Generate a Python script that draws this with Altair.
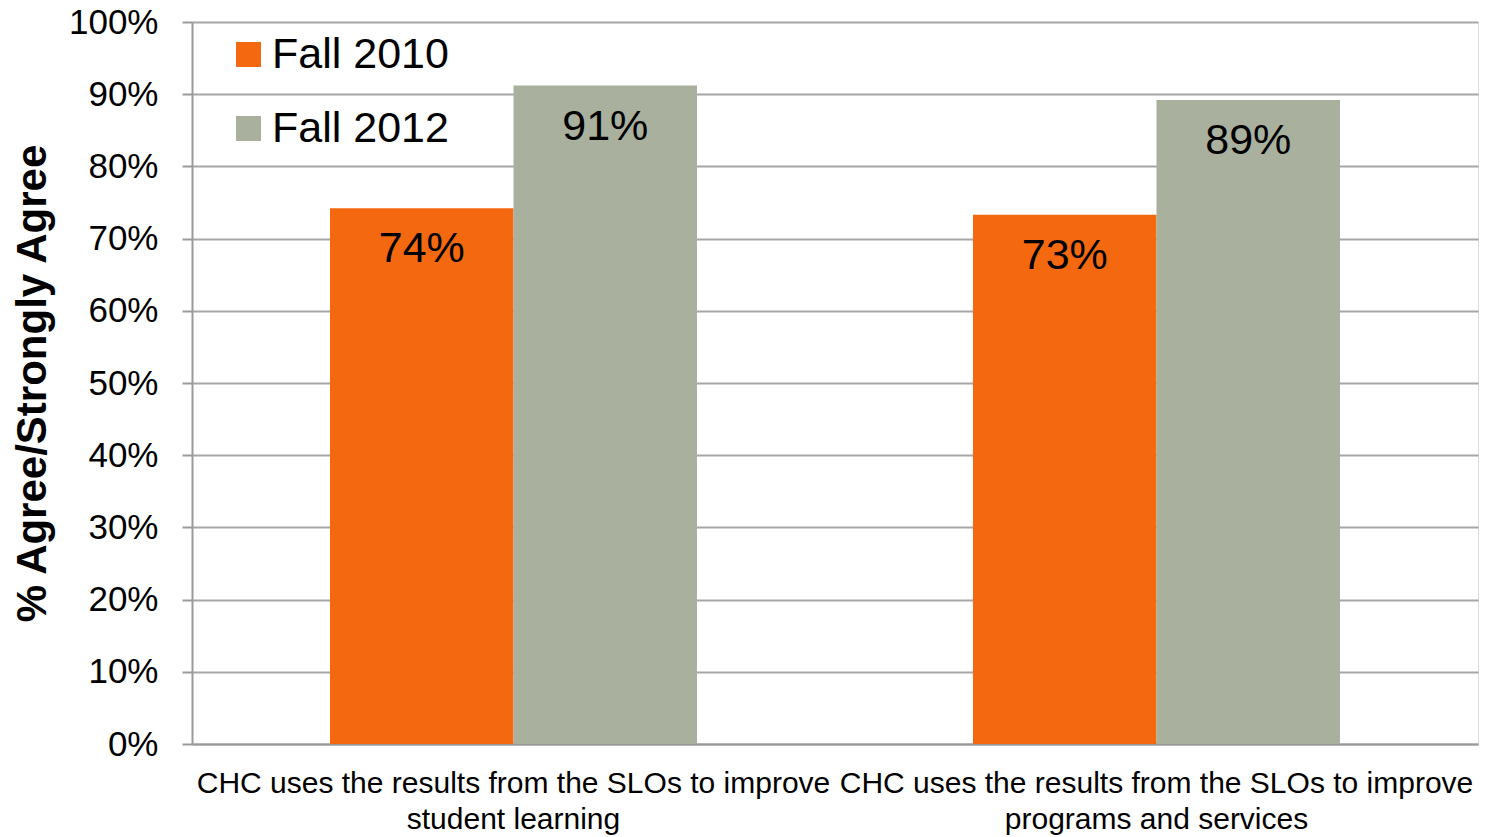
import altair as alt
import pandas as pd

categories = [
    "CHC uses the results from the SLOs to improve student learning",
    "CHC uses the results from the SLOs to improve programs and services",
]
series = ["Fall 2010", "Fall 2012"]
fall_2010 = [0.742, 0.733]
fall_2012 = [0.912, 0.892]
colors = ["#F4690F", "#A9B09E"]

rows = []
for i, c in enumerate(categories):
    rows.append({"cat": c, "series": series[0], "value": fall_2010[i]})
    rows.append({"cat": c, "series": series[1], "value": fall_2012[i]})
df = pd.DataFrame(rows)

FONT = "Liberation Sans, Arial, sans-serif"

x = alt.X(
    "cat:N",
    sort=categories,
    title=None,
    scale=alt.Scale(paddingInner=0, paddingOuter=0),
    axis=alt.Axis(
        labelAngle=0,
        labelFontSize=30,
        labelFont=FONT,
        labelColor="#000000",
        labelLineHeight=36,
        labelPadding=24,
        labelLimit=0,
        ticks=False,
        domainColor="#9a9a9a",
        domainWidth=2,
        labelExpr="[substring(datum.label, 0, indexof(datum.label, 'improve') + 7), substring(datum.label, indexof(datum.label, 'improve') + 8)]",
    ),
)
xo = alt.XOffset("series:N", sort=series, scale=alt.Scale(paddingInner=0, paddingOuter=0.752))
y = alt.Y(
    "value:Q",
    title="% Agree/Strongly Agree",
    scale=alt.Scale(domain=[0, 1]),
    axis=alt.Axis(
        format=".0%",
        values=[i / 10 for i in range(11)],
        labelFontSize=35,
        labelFont=FONT,
        labelColor="#000000",
        labelPadding=24,
        tickSize=10,
        tickColor="#9a9a9a",
        tickWidth=2,
        domainColor="#9a9a9a",
        domainWidth=2,
        gridColor="#a6a6a6",
        gridWidth=2,
        titleFontSize=42,
        titleFont=FONT,
        titleFontWeight="bold",
        titleColor="#000000",
        titlePadding=14,
    ),
)

bars = alt.Chart(df).mark_bar().encode(
    x=x,
    xOffset=xo,
    y=y,
    color=alt.Color(
        "series:N",
        sort=series,
        scale=alt.Scale(domain=series, range=colors),
        legend=alt.Legend(
            title=None,
            orient="none",
            legendX=35,
            legendY=11,
            symbolType="square",
            symbolSize=625,
            symbolStrokeWidth=0,
            labelFontSize=43,
            labelFont=FONT,
            labelColor="#000000",
            labelLimit=0,
            rowPadding=30,
            labelOffset=2,
        ),
    ),
)

labels = alt.Chart(df).mark_text(
    baseline="top", dy=20, fontSize=43, font=FONT, color="#000000"
).encode(
    x=alt.X("cat:N", sort=categories),
    xOffset=alt.XOffset("series:N", sort=series),
    y="value:Q",
    text=alt.Text("value:Q", format=".0%"),
)

chart = (
    alt.layer(bars, labels)
    .properties(
        width=1286,
        height=722,
        autosize=alt.AutoSizeParams(type="none"),
        padding={"left": 192, "top": 22, "right": 8, "bottom": 93},
    )
    .configure_view(stroke=None)
    .configure(background="white")
)

chart.save("out.html", embed_options={"renderer": "svg", "actions": False})
